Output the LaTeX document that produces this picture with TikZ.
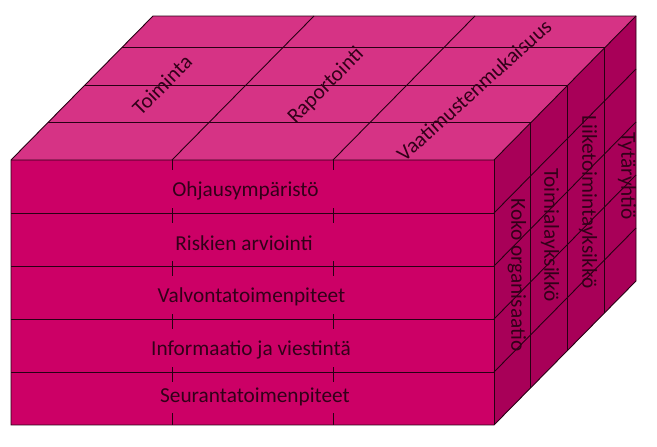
\documentclass[tikz,border=0pt]{standalone}
\usepackage{fontspec}
\setmainfont{Carlito}
\usepackage{tikz}
\usetikzlibrary{calc}
\definecolor{frontc}{RGB}{204,0,102}
\definecolor{topc}{RGB}{214,51,133}
\definecolor{sidec}{RGB}{168,0,88}
\definecolor{edgec}{RGB}{40,0,20}
\definecolor{textc}{RGB}{50,0,25}
\tikzset{cubeline/.style={edgec, line width=0.9pt}}
\tikzset{lab/.style={text=textc, font=\fontsize{21.3}{24}\selectfont, inner sep=0}}
\tikzset{rowlab/.style={lab, anchor=base}}

\begin{document}
\begin{tikzpicture} [x=1pt,y=-1pt]
\useasboundingbox (0,0) rectangle (657,447);
\fill[topc] (11,160) -- (494,160) -- (636,16) -- (153,16) -- cycle;
\fill[sidec] (494,160) -- (636,16) -- (636,281) -- (494,425) -- cycle;
\fill[frontc] (11,160) rectangle (494,425);
% top and side divisions
\foreach \t in {0.26,0.52,0.78} {
 \draw[cubeline] ($(11,160)+\t*(142,-144)$) --++(483,0);
 \draw[cubeline] ($(494,160)+\t*(142,-144)$) --++(0,265);
}
\foreach \x in {172,333} {
 \draw[cubeline] (\x,160) --++(142,-144);
}
\foreach \y in {213,266,319,372} {
 \draw[cubeline] (11,\y) -- (494,\y);
 \draw[cubeline] (494,\y) --++(142,-144);
}
% what is left of the front columns
\foreach \x in {172,333} {
 \draw[cubeline] (\x,160) --++(0,10);
 \foreach \y in {213,266,319,372} {
  \draw[cubeline] (\x,\y-5) --++(0,15);
 }
 \draw[cubeline] (\x,413) -- (\x,425);
}
\draw[cubeline, line join=miter] (11,160) -- (153,16) -- (636,16) -- (636,281) -- (494,425) -- (11,425) -- cycle;
\draw[cubeline] (11,160) -- (494,160) -- (636,16);
\draw[cubeline] (494,160) -- (494,425);
% labels
\node[rowlab] (ohjaus) at (245.5,196) {Ohjausympäristö};
\node[rowlab] (riskit) at (244,250) {Riskien arviointi};
\node[rowlab] (valvonta) at (251.5,302) {Valvontatoimenpiteet};
\node[rowlab] (info) at (251,355) {Informaatio ja viestintä};
\node[rowlab] (seuranta) at (255,402) {Seurantatoimenpiteet};
\node[lab, rotate=45] (toiminta) at (162,85) {Toiminta};
\node[lab, rotate=45] (raportointi) at (326,86) {Raportointi};
\node[lab, rotate=42] (vaatimus) at (474,90) {Vaatimustenmukaisuus};
\node[lab, rotate=-90] (koko) at (517,275) {Koko organisaatio};
\node[lab, rotate=-90] (toimiala) at (550,235) {Toimialayksikkö};
\node[lab, rotate=-90] (liiketoiminta) at (588,202) {Liiketoimintayksikkö};
\node[lab, rotate=-90] (tytar) at (627,176) {Tytäryhtiö};
\end{tikzpicture}
\end{document}
